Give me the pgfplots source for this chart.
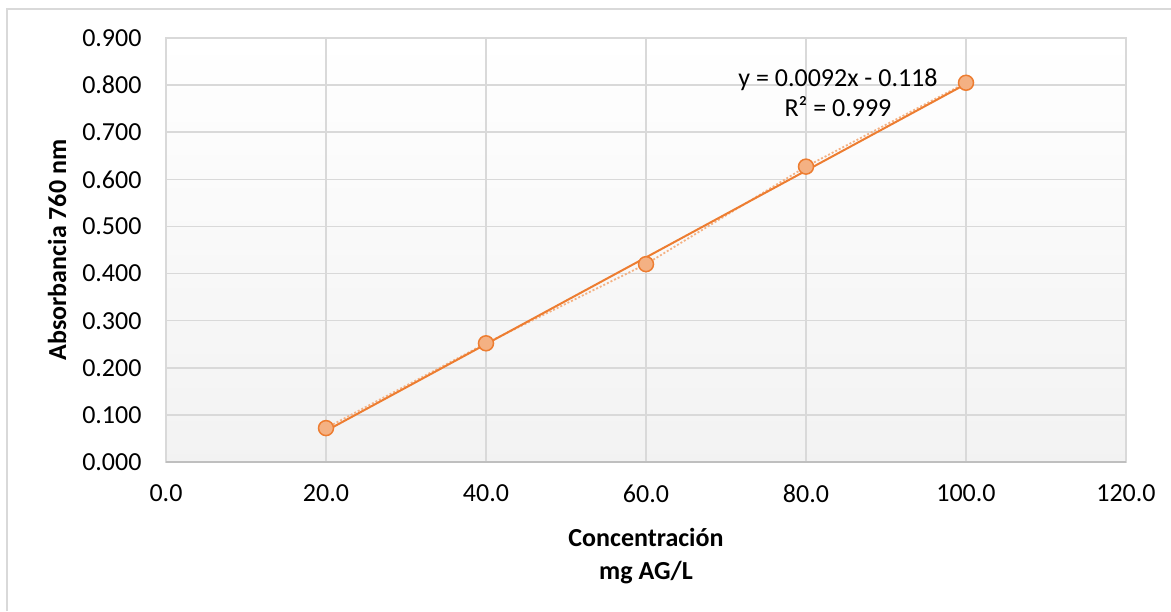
\documentclass[border=0pt]{standalone}
\usepackage{fontspec}
\setmainfont{Carlito}
\usepackage{pgfplots}
\pgfplotsset{compat=1.18}
\definecolor{orangeline}{HTML}{ED7D31}
\definecolor{orangefill}{HTML}{F4B183}
\definecolor{gridgray}{HTML}{D9D9D9}
\definecolor{axisgray}{HTML}{BFBFBF}

\begin{document}
\begin{tikzpicture}
\useasboundingbox (-83pt,-74.5pt) rectangle (502.5pt,231pt);
% chart area frame (only top and left visible)
\draw[gridgray, line width=0.8pt] (-79.5pt,-74.5pt) -- (-79.5pt,226.5pt) -- (502.5pt,226.5pt);
\begin{axis}[
  at={(0,0)}, anchor=south west,
  scale only axis, width=480pt, height=212pt,
  xmin=0, xmax=120, ymin=0, ymax=0.9,
  xtick={0,20,40,60,80,100,120},
  ytick={0,0.1,0.2,0.3,0.4,0.5,0.6,0.7,0.8,0.9},
  major tick length=0pt,
  grid=major, grid style={gridgray, line width=0.75pt},
  axis line style={gridgray, line width=0.75pt},
  axis background/.style={shade, top color=white, bottom color=gray!10},
  /pgf/number format/assume math mode=true,
  xticklabel={\pgfmathprintnumber[fixed,fixed zerofill,precision=1]{\tick}},
  yticklabel={\pgfmathprintnumber[fixed,fixed zerofill,precision=3]{\tick}},
  xticklabel style={font=\fontsize{13}{15.6}\selectfont, yshift=-8pt},
  yticklabel style={font=\fontsize{13}{15.6}\selectfont, xshift=-8.7pt},
  xlabel={Concentración\\mg AG/L},
  xlabel style={font=\fontsize{13}{16.5}\selectfont\bfseries, align=center,
                at={(axis description cs:0.5,-0.2217)}, anchor=center},
  ylabel={Absorbancia 760 nm},
  ylabel style={font=\fontsize{13}{15.6}\selectfont\bfseries,
                at={(axis description cs:-0.1135,0.5)}, anchor=center},
  clip=false,
]
% series: points joined by a dotted line
\addplot[orangefill, line width=0.9pt, dash pattern=on 1pt off 1pt,
  mark=*, mark size=3.75pt,
  mark options={solid, fill=orangefill, draw=orangeline, line width=0.75pt}]
  coordinates {(20,0.072) (40,0.252) (60,0.420) (80,0.627) (100,0.805)};
% linear trendline y = 0.0092x - 0.118
\addplot[orangeline, line width=1pt] coordinates {(20,0.0661) (100,0.8025)};
\draw[axisgray, line width=1pt] (rel axis cs:0,0) -- (rel axis cs:1,0);
\node[align=center, font=\fontsize{13}{15}\selectfont] at (axis cs:84.0,0.7834)
  {y = 0.0092x - 0.118\\R² = 0.999};
\end{axis}
\end{tikzpicture}
\end{document}
